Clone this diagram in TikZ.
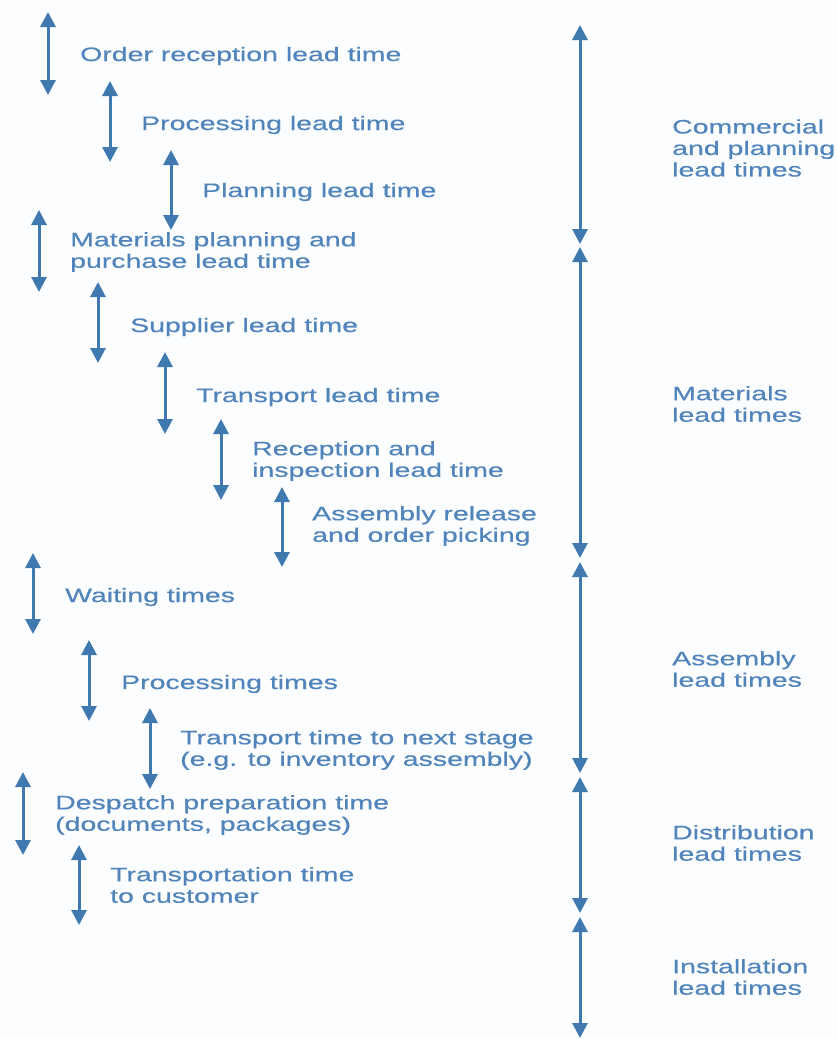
\documentclass[tikz,border=0pt]{standalone}
\usepackage{fontspec}
\setmainfont{Liberation Sans}[FakeStretch=1.46, FakeBold=0.4]
\usetikzlibrary{arrows.meta}
\definecolor{arrowblue}{RGB}{64,121,176}
\definecolor{labelblue}{RGB}{80,132,186}
\definecolor{paper}{RGB}{251,253,254}
\tikzset{
  span/.style={arrowblue, line width=3pt,
    {Triangle[length=15pt,width=15pt]}-{Triangle[length=15pt,width=15pt]}},
  lbl/.style={labelblue, anchor=west, inner sep=0pt, align=left,
    font=\fontsize{19.5}{21.5}\selectfont},
}
\begin{document}
\begin{tikzpicture}[x=1pt,y=-1pt]
\fill[paper] (0,0) rectangle (837,1039);
\useasboundingbox (0,0) rectangle (837,1039);

% stage-by-stage lead times (left staircase)
\node[lbl] (t1)  at (80,56)  {Order reception lead time};
\node[lbl] (t2)  at (141,125) {Processing lead time};
\node[lbl] (t3)  at (202,192) {Planning lead time};
\node[lbl] (t4)  at (70,252)  {Materials planning and\\purchase lead time};
\node[lbl] (t5)  at (130,327) {Supplier lead time};
\node[lbl] (t6)  at (196,397) {Transport lead time};
\node[lbl] (t7)  at (252,461) {Reception and\\inspection lead time};
\node[lbl] (t8)  at (312,526) {Assembly release\\and order picking};
\node[lbl] (t9)  at (65,597)  {Waiting times};
\node[lbl] (t10) at (121,684) {Processing times};
\node[lbl] (t11) at (180,750) {Transport time to next stage\\(e.g. to inventory assembly)};
\node[lbl] (t12) at (55,815)  {Despatch preparation time\\(documents, packages)};
\node[lbl] (t13) at (110,885) {Transportation time\\to customer};

\foreach \i/\x/\ya/\yb in {1/48/12/95, 2/110/81/162, 3/171/150/230,
    4/39/210/292, 5/98/282/363, 6/165/352/434, 7/221/419/500,
    8/282/487/567, 9/33/553/634, 10/89/640/721, 11/150/708/789,
    12/23/772/855, 13/79/845/925} {
  \coordinate (s\i top) at (\x,\ya);
  \coordinate (s\i bot) at (\x,\yb);
  \draw[span] (s\i top) -- (s\i bot);
}

% lead-time groups (right column)
\coordinate (g0) at (580,25);
\coordinate (g1a) at (580,244);
\coordinate (g1b) at (580,247);
\coordinate (g2a) at (580,558);
\coordinate (g2b) at (580,562);
\coordinate (g3a) at (580,773);
\coordinate (g3b) at (580,777);
\coordinate (g4a) at (580,913);
\coordinate (g4b) at (580,917);
\coordinate (g5) at (580,1038);
\draw[span] (g0) -- (g1a);
\draw[span] (g1b) -- (g2a);
\draw[span] (g2b) -- (g3a);
\draw[span] (g3b) -- (g4a);
\draw[span] (g4b) -- (g5);

\node[lbl] (r1) at (672,148) {Commercial\\and planning\\lead times};
\node[lbl] (r2) at (672,404) {Materials\\lead times};
\node[lbl] (r3) at (672,669) {Assembly\\lead times};
\node[lbl] (r4) at (672,843) {Distribution\\lead times};
\node[lbl] (r5) at (672,977) {Installation\\lead times};
\end{tikzpicture}
\end{document}
